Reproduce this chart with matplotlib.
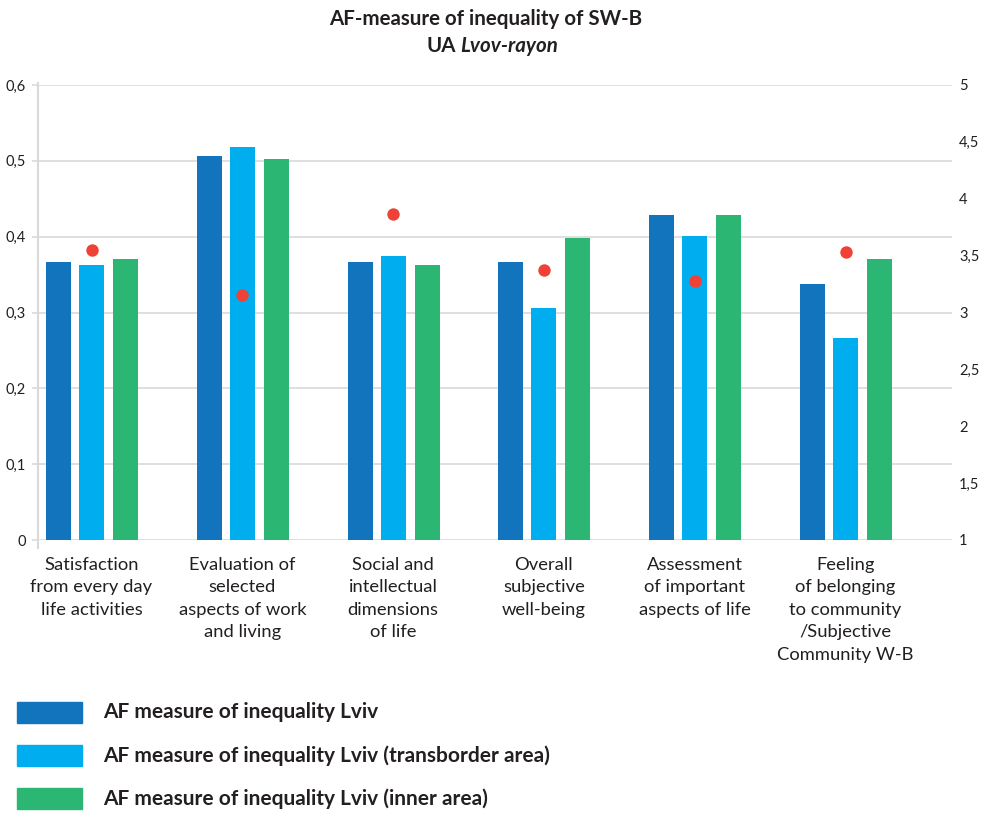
import matplotlib.pyplot as plt
import numpy as np
from matplotlib.patches import Rectangle
from matplotlib.lines import Line2D

plt.rcParams['font.family'] = ['Lato', 'DejaVu Sans']

# Categories (x axis)
categories = [
    'Satisfaction\nfrom every day\nlife activities',
    'Evaluation of\nselected\naspects of work\nand living',
    'Social and\nintellectual\ndimensions\nof life',
    'Overall\nsubjective\nwell-being',
    'Assessment\nof important\naspects of life',
    'Feeling\nof belonging\nto community\n/Subjective\nCommunity W-B',
]

# AF measure of inequality (left axis)
af_lviv = [0.366, 0.507, 0.366, 0.366, 0.429, 0.337]
af_transborder = [0.363, 0.518, 0.374, 0.306, 0.401, 0.267]
af_inner = [0.370, 0.502, 0.363, 0.398, 0.429, 0.370]

# mean values (right axis)
mean_values = [3.55, 3.15, 3.87, 3.37, 3.28, 3.53]

series_labels = ['AF measure of inequality Lviv',
                 'AF measure of inequality Lviv (transborder area)',
                 'AF measure of inequality Lviv (inner area)']
colors = ['#1174bc', '#00aeef', '#2bb673']
dot_color = '#ef4136'
grid_color = '#d9d9d9'
text_color = '#231f20'

W, H = 984, 815
fig = plt.figure(figsize=(W / 100, H / 100), dpi=100)

# axes box in pixels
left_px, right_px, top_px, bottom_px = 38, 952, 85, 540
ax = fig.add_axes([left_px / W, 1 - bottom_px / H,
                   (right_px - left_px) / W, (bottom_px - top_px) / H])

x = np.arange(len(categories))
bw = 0.166
offsets = [-0.219, 0.0, 0.225]
for vals, off, c, lab in zip([af_lviv, af_transborder, af_inner], offsets, colors, series_labels):
    ax.bar(x + off, vals, width=bw, color=c, label=lab, zorder=3)

ax.set_xlim(-0.355, 5.706)
ax.set_ylim(0, 0.6)
ax.set_yticks(np.arange(0, 0.61, 0.1))
ax.set_yticklabels(['0', '0,1', '0,2', '0,3', '0,4', '0,5', '0,6'])
ax.yaxis.grid(True, color=grid_color, linewidth=1.2, zorder=0)
ax.tick_params(axis='y', length=4, width=1.2, color=grid_color, pad=5,
               labelsize=10.5, labelcolor=text_color)

ax.set_xticks(x)
ax.set_xticklabels(categories, fontsize=13.2, color=text_color, linespacing=1.5)
ax.tick_params(axis='x', length=0, pad=12)

for s in ['top', 'right', 'bottom', 'left']:
    ax.spines[s].set_visible(False)

# left axis line, running a little below zero
ax.add_line(Line2D([0, 0], [-0.018, 1.005], transform=ax.transAxes,
                   color=grid_color, linewidth=1.5, clip_on=False, zorder=1))

# right axis with mean values
ax2 = ax.twinx()
ax2.set_ylim(1, 5)
ax2.set_yticks(np.arange(1, 5.01, 0.5))
ax2.set_yticklabels(['1', '1,5', '2', '2,5', '3', '3,5', '4', '4,5', '5'])
ax2.tick_params(axis='y', length=0, pad=5, labelsize=10.5, labelcolor=text_color)
for s in ['top', 'right', 'bottom', 'left']:
    ax2.spines[s].set_visible(False)
ax2.scatter(x, mean_values, s=80, color=dot_color, zorder=5, linewidths=0)

# title
fig.text(0.494, 1 - 25 / H, 'AF-measure of inequality of SW-B', ha='center', va='baseline',
         fontsize=14.8, fontweight='bold', color=text_color)
t1 = fig.text(427 / W, 1 - 52 / H, 'UA', ha='left', va='baseline',
              fontsize=14.8, fontweight='bold', color=text_color)
ax.annotate('Lvov-rayon', xy=(1, 0), xycoords=t1, xytext=(3, 0), textcoords='offset points',
            ha='left', va='bottom', fontsize=14.8, fontweight='bold', fontstyle='italic',
            color=text_color, annotation_clip=False)

# legend drawn by hand below the plot
row_y = [712.5, 755.5, 798.5]
for yy, c, lab in zip(row_y, colors, series_labels):
    fig.patches.append(Rectangle((17 / W, 1 - (yy + 10.5) / H), 65 / W, 21 / H,
                                 transform=fig.transFigure, color=c, figure=fig))
    fig.text(103 / W, 1 - yy / H, lab, ha='left', va='center', fontsize=15,
             fontweight='bold', color=text_color)

fig.savefig('out.png', dpi=100)
plt.close(fig)
